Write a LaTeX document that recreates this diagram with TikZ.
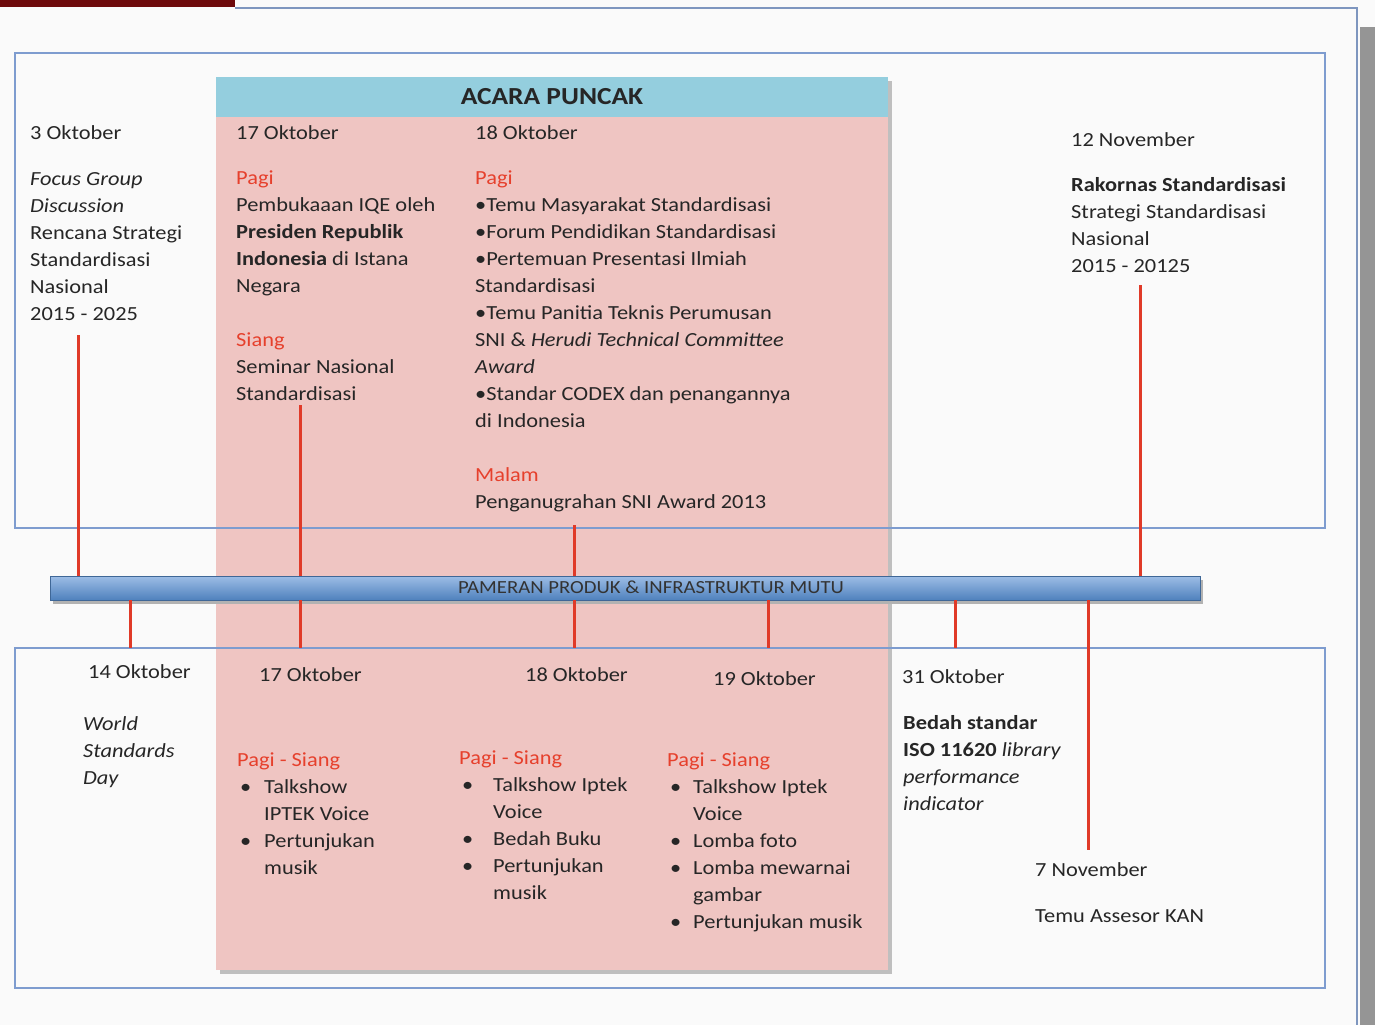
\documentclass[tikz,border=0pt]{standalone}
\usepackage{fontspec}
\setmainfont{Carlito}[FakeStretch=1.12]
\usetikzlibrary{shadows}
\definecolor{darkred}{HTML}{6E0A0C}
\definecolor{frameblue}{HTML}{7E9CCF}
\definecolor{pinkbg}{HTML}{EFC5C2}
\definecolor{headblue}{HTML}{94CEDE}
\definecolor{lbl}{HTML}{E6402C}
\definecolor{redline}{HTML}{E03A28}
\definecolor{bartop}{HTML}{9DBDE6}
\definecolor{barbot}{HTML}{4F81BD}
\definecolor{greyband}{HTML}{959595}
\tikzset{
  txt/.style={anchor=base west, inner sep=0pt, text=black!85,
    font=\fontsize{20}{27}\selectfont},
  frame/.style={draw=frameblue, line width=2pt},
  conn/.style={draw=redline, line width=3pt},
}
\newcommand{\red}[1]{\textcolor{lbl}{#1}}
\newcommand{\bul}[1]{\makebox[#1][l]{\textbullet}}
\newcommand{\tl}[1]{\begin{tabular}[t]{@{}l@{}}#1\end{tabular}}
\begin{document}
\begin{tikzpicture}[x=1pt,y=-1pt]
\useasboundingbox (0,0) rectangle (1375,1025);
\fill[white!98!black] (0,0) rectangle (1375,1025);
% page decorations
\fill[darkred] (0,0) rectangle (235,7);
\draw[frameblue!80!gray, line width=1.5pt] (235,8) -- (1357,8) -- (1357,1025);
\fill[greyband] (1360,27) rectangle (1375,1025);
% pink region
\fill[black!25] (220,81) rectangle (892,974);
\fill[pinkbg] (216,77) rectangle (888,970);
\fill[headblue] (216,77) rectangle (888,117);
\node[anchor=center, inner sep=0pt, font=\fontsize{24.5}{27}\selectfont\bfseries, text=black!85] (title) at (552,97) {ACARA PUNCAK};
% boxes
\draw[frame] (15,53) rectangle (1325,528);
\draw[frame] (15,648) rectangle (1325,988);
% connector endpoints
\coordinate (t3) at (78,335);
\coordinate (t17) at (300,405);
\coordinate (t18) at (574,525);
\coordinate (t12n) at (1140,285);
\coordinate (b14) at (130,648);
\coordinate (b17) at (300,648);
\coordinate (b18) at (574,648);
\coordinate (b19) at (768,648);
\coordinate (b31) at (955,648);
\coordinate (b7n) at (1088,850);
% timeline bar
\fill[black!30] (53,580) rectangle (1203,604);
\node[minimum width=1150pt, minimum height=24pt, inner sep=0pt, top color=bartop, bottom color=barbot, draw=barbot!80!black, line width=0.5pt] (bar) at (625,588) {};
\node[inner sep=0pt, font=\fontsize{18.5}{20}\selectfont, text=black!80] (barlbl) at (651,587) {PAMERAN PRODUK \& INFRASTRUKTUR MUTU};
% connectors
\draw[conn] (t3) -- (t3 |- bar.north);
\draw[conn] (t17) -- (t17 |- bar.north);
\draw[conn] (t18) -- (t18 |- bar.north);
\draw[conn] (t12n) -- (t12n |- bar.north);
\draw[conn] (b14 |- bar.south) -- (b14);
\draw[conn] (b17 |- bar.south) -- (b17);
\draw[conn] (b18 |- bar.south) -- (b18);
\draw[conn] (b19 |- bar.south) -- (b19);
\draw[conn] (b31 |- bar.south) -- (b31);
\draw[conn] (b7n |- bar.south) -- (b7n);
% top texts
\node[txt] (d3) at (30,139) {3 Oktober};
\node[txt] (e3) at (30,185) {\tl{\textit{Focus Group}\\ \textit{Discussion}\\ Rencana Strategi\\ Standardisasi\\ Nasional\\ 2015 - 2025}};
\node[txt] (d17) at (236,139) {17 Oktober};
\node[txt] (e17) at (236,184) {\tl{\red{Pagi}\\ Pembukaaan IQE oleh\\ \textbf{Presiden Republik}\\ \textbf{Indonesia} di Istana\\ Negara\\ \\ \red{Siang}\\ Seminar Nasional\\ Standardisasi}};
\node[txt] (d18) at (475,139) {18 Oktober};
\node[txt] (e18) at (475,184) {\tl{\red{Pagi}\\ \textbullet Temu Masyarakat Standardisasi\\ \textbullet Forum Pendidikan Standardisasi\\ \textbullet Pertemuan Presentasi Ilmiah\\ Standardisasi\\ \textbullet Temu Panitia Teknis Perumusan\\ SNI \& \textit{Herudi Technical Committee}\\ \textit{Award}\\ \textbullet Standar CODEX dan penangannya\\ di Indonesia\\ \\ \red{Malam}\\ Penganugrahan SNI Award 2013}};
\node[txt] (d12n) at (1071,146) {12 November};
\node[txt] (e12n) at (1071,191) {\tl{\textbf{Rakornas Standardisasi}\\ Strategi Standardisasi\\ Nasional\\ 2015 - 20125}};
% bottom texts
\node[txt] (d14) at (88,678) {14 Oktober};
\node[txt] (e14) at (83,730) {\tl{\textit{World}\\ \textit{Standards}\\ \textit{Day}}};
\node[txt] (db17) at (259,681) {17 Oktober};
\node[txt] (eb17) at (237,766) {\tl{\red{Pagi - Siang}\\ \hspace*{3pt}\bul{24pt}Talkshow\\ \hspace*{27pt}IPTEK Voice\\ \hspace*{3pt}\bul{24pt}Pertunjukan\\ \hspace*{27pt}musik}};
\node[txt] (db18) at (525,681) {18 Oktober};
\node[txt] (eb18) at (459,764) {\tl{\red{Pagi - Siang}\\ \hspace*{3pt}\bul{31pt}Talkshow Iptek\\ \hspace*{34pt}Voice\\ \hspace*{3pt}\bul{31pt}Bedah Buku\\ \hspace*{3pt}\bul{31pt}Pertunjukan\\ \hspace*{34pt}musik}};
\node[txt] (db19) at (713,685) {19 Oktober};
\node[txt] (eb19) at (667,766) {\tl{\red{Pagi - Siang}\\ \hspace*{3pt}\bul{23pt}Talkshow Iptek\\ \hspace*{26pt}Voice\\ \hspace*{3pt}\bul{23pt}Lomba foto\\ \hspace*{3pt}\bul{23pt}Lomba mewarnai\\ \hspace*{26pt}gambar\\ \hspace*{3pt}\bul{23pt}Pertunjukan musik}};
\node[txt] (db31) at (902,683) {31 Oktober};
\node[txt] (eb31) at (903,729) {\tl{\textbf{Bedah standar}\\ \textbf{ISO 11620} \textit{library}\\ \textit{performance}\\ \textit{indicator}}};
\node[txt] (d7n) at (1035,876) {7 November};
\node[txt] (e7n) at (1035,922) {Temu Assesor KAN};
\end{tikzpicture}
\end{document}
